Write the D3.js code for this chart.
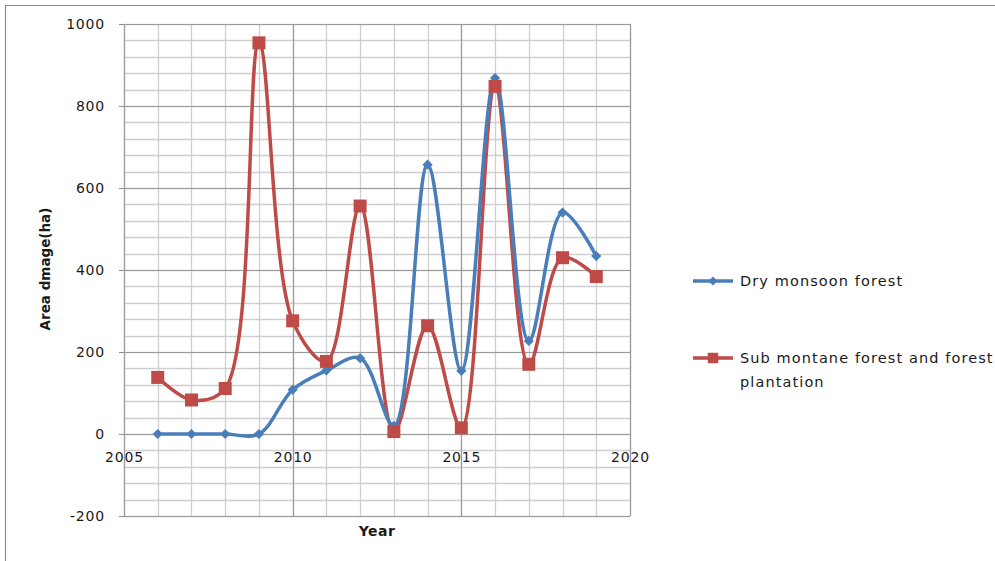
<!DOCTYPE html>
<html>
<head>
<meta charset="utf-8">
<script src="https://cdn.jsdelivr.net/npm/d3@7"></script>
<style>
  html, body { margin: 0; padding: 0; background: #fff; }
  svg { display: block; }
</style>
</head>
<body>
<svg id="chart" width="995" height="561"></svg>
<script>
// Fire damage by year
const years = [2006, 2007, 2008, 2009, 2010, 2011, 2012, 2013, 2014, 2015, 2016, 2017, 2018, 2019];
const dryMonsoon = [0, 0, 0, 0, 108, 155, 185, 20, 657, 154, 868, 227, 540, 434];
const subMontane = [138, 83, 111, 954, 276, 177, 556, 6, 264, 15, 848, 170, 430, 384];
const seriesNames = ["Dry monsoon forest", "Sub montane forest and forest plantation"];
const xTicks = [2005, 2010, 2015, 2020];
const yTicks = [-200, 0, 200, 400, 600, 800, 1000];

const svg = d3.select("#chart");
const W = 995, H = 561;
const plot = { left: 124, right: 630, top: 24, bottom: 516 };

const x = d3.scaleLinear().domain([2005, 2020]).range([plot.left, plot.right]);
const y = d3.scaleLinear().domain([-200, 1000]).range([plot.bottom, plot.top]);

const blue = "#4A7EBB", red = "#BE4B48";
const font = "DejaVu Sans, Verdana, sans-serif";
const fmt = d => String(d); // plain hyphen for negatives

// outer chart frame
svg.append("path")
  .attr("d", `M5.5,${H} V5.5 H${W}`)
  .attr("fill", "none").attr("stroke", "#8c8c8c").attr("stroke-width", 1.2);

// minor grid
const g = svg.append("g");
g.selectAll("line.hminor").data(d3.range(-200, 1001, 40)).join("line")
  .attr("x1", plot.left).attr("x2", plot.right)
  .attr("y1", d => Math.round(y(d)) + 0.5).attr("y2", d => Math.round(y(d)) + 0.5)
  .attr("stroke", "#cfcfcf").attr("stroke-width", 1.3);
g.selectAll("line.vminor").data(d3.range(2005, 2021, 1)).join("line")
  .attr("y1", plot.top).attr("y2", plot.bottom)
  .attr("x1", d => Math.round(x(d)) + 0.5).attr("x2", d => Math.round(x(d)) + 0.5)
  .attr("stroke", "#cfcfcf").attr("stroke-width", 1.3);
// major grid
g.selectAll("line.hmajor").data(yTicks).join("line")
  .attr("x1", plot.left).attr("x2", plot.right)
  .attr("y1", d => Math.round(y(d)) + 0.5).attr("y2", d => Math.round(y(d)) + 0.5)
  .attr("stroke", "#9a9a9a").attr("stroke-width", 1.2);
g.selectAll("line.vmajor").data(xTicks).join("line")
  .attr("y1", plot.top).attr("y2", plot.bottom)
  .attr("x1", d => Math.round(x(d)) + 0.5).attr("x2", d => Math.round(x(d)) + 0.5)
  .attr("stroke", "#9a9a9a").attr("stroke-width", 1.2);

// axes: y on left, x crossing at 0
const yAxis = svg.append("g").attr("transform", `translate(${plot.left},0)`)
  .call(d3.axisLeft(y).tickValues(yTicks).tickSize(5).tickPadding(14).tickFormat(fmt));
const xAxis = svg.append("g").attr("transform", `translate(0,${y(0)})`)
  .call(d3.axisBottom(x).tickValues(xTicks).tickSize(0).tickPadding(18).tickFormat(fmt));
[yAxis, xAxis].forEach(a => {
  a.select(".domain").remove();
  a.selectAll("line").attr("stroke", "#8c8c8c");
  a.selectAll("text").attr("font-family", font).attr("font-size", 14)
    .attr("letter-spacing", 0.8).attr("fill", "#1a1a1a");
});
xAxis.selectAll("line").remove();

// axis titles
svg.append("text")
  .attr("transform", `translate(50,${(plot.top + plot.bottom) / 2 - 1}) rotate(-90)`)
  .attr("text-anchor", "middle").attr("font-family", font).attr("font-weight", "bold")
  .attr("font-size", 13.5).attr("fill", "#1a1a1a").text("Area dmage(ha)");
svg.append("text")
  .attr("x", 377).attr("y", 536)
  .attr("text-anchor", "middle").attr("font-family", font).attr("font-weight", "bold")
  .attr("font-size", 14).attr("letter-spacing", 0.5).attr("fill", "#1a1a1a").text("Year");

// series (smoothed lines, centripetal spline keeps short segments from overshooting)
const curve = d3.curveCatmullRom.alpha(0.5);
const line = d3.line().curve(curve).x(d => x(d[0])).y(d => y(d[1]));
const seriesData = [
  { name: seriesNames[0], color: blue, pts: years.map((yr, i) => [yr, dryMonsoon[i]]), diamond: true },
  { name: seriesNames[1], color: red, pts: years.map((yr, i) => [yr, subMontane[i]]), diamond: false }
];

seriesData.slice().reverse().forEach(s => {
  svg.append("path").datum(s.pts).attr("d", line)
    .attr("fill", "none").attr("stroke", s.color).attr("stroke-width", 3.5)
    .attr("stroke-linejoin", "round");
});
const markerPath = (diamond, big) => d3.symbol().type(d3.symbolSquare)
  .size(diamond ? (big ? 52 : 40) : (big ? 169 : 110))();
seriesData.forEach(s => {
  svg.append("g").selectAll("path").data(s.pts).join("path")
    .attr("transform", d => `translate(${x(d[0])},${y(d[1])})` + (s.diamond ? " rotate(45)" : ""))
    .attr("d", markerPath(s.diamond, true)).attr("fill", s.color);
});

// legend
const legend = svg.append("g");
const items = [
  { color: blue, diamond: true, ly: 281, lines: ["Dry monsoon forest"] },
  { color: red, diamond: false, ly: 358, lines: ["Sub montane forest and forest", "plantation"] }
];
items.forEach(it => {
  legend.append("line").attr("x1", 693).attr("x2", 733).attr("y1", it.ly).attr("y2", it.ly)
    .attr("stroke", it.color).attr("stroke-width", 3.5);
  legend.append("path").attr("transform", `translate(713,${it.ly})` + (it.diamond ? " rotate(45)" : ""))
    .attr("d", markerPath(it.diamond, false)).attr("fill", it.color);
  it.lines.forEach((t, i) => {
    legend.append("text").attr("x", 740).attr("y", it.ly + 5 + i * 24)
      .attr("font-family", font).attr("font-size", 14.5).attr("letter-spacing", 1.1)
      .attr("fill", "#1a1a1a").text(t);
  });
});
</script>
</body>
</html>
